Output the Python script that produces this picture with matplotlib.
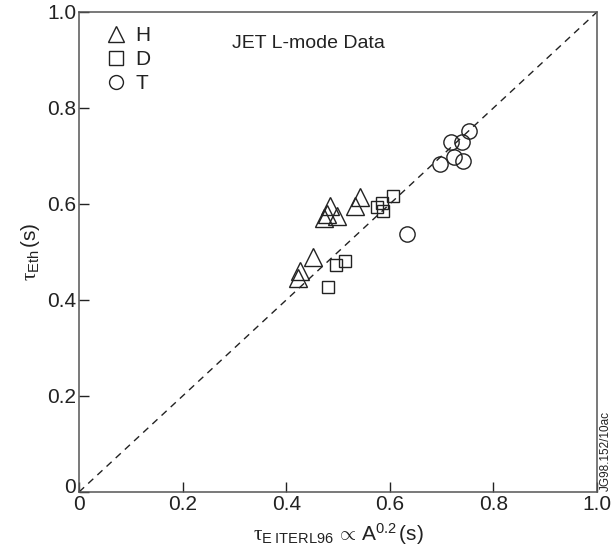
import matplotlib
matplotlib.use("Agg")
import matplotlib.pyplot as plt
import matplotlib.transforms as mtransforms
from matplotlib.lines import Line2D

plt.rcParams['font.family'] = ['Liberation Sans', 'DejaVu Sans']
plt.rcParams['mathtext.fontset'] = 'custom'
plt.rcParams['mathtext.rm'] = 'Liberation Sans'
plt.rcParams['mathtext.it'] = 'Liberation Serif'
plt.rcParams['mathtext.sf'] = 'Liberation Sans'

# Confinement time: ITERL96 scaling (x) vs. measured thermal (y), seconds
h_x = [0.423, 0.427, 0.452, 0.472, 0.478, 0.485, 0.499, 0.533, 0.542]
h_y = [0.445, 0.461, 0.490, 0.570, 0.580, 0.595, 0.575, 0.596, 0.614]

d_x = [0.481, 0.497, 0.514, 0.575, 0.585, 0.586, 0.607]
d_y = [0.428, 0.473, 0.482, 0.594, 0.603, 0.586, 0.617]

t_x = [0.633, 0.697, 0.719, 0.723, 0.739, 0.742, 0.752]
t_y = [0.538, 0.683, 0.730, 0.697, 0.729, 0.690, 0.752]

x_ticks = [0, 0.2, 0.4, 0.6, 0.8, 1.0]
x_ticklabels = ['0', '0.2', '0.4', '0.6', '0.8', '1.0']
y_ticks = [0, 0.2, 0.4, 0.6, 0.8, 1.0]
y_ticklabels = ['0', '0.2', '0.4', '0.6', '0.8', '1.0']

ink = '#222222'

fig = plt.figure(figsize=(6.14, 5.57), dpi=100)
ax = fig.add_axes([0.1287, 0.1167, 0.9723 - 0.1287, 0.9785 - 0.1167])

ax.plot([0, 1], [0, 1], ls=(0, (5, 4)), color=ink, lw=1.0, zorder=1)

mk = dict(ls='none', mfc='none', mec=ink, mew=1.0, zorder=3)
ax.plot(h_x, h_y, marker='^', ms=13, **mk)
ax.plot(d_x, d_y, marker='s', ms=8.8, **mk)
ax.plot(t_x, t_y, marker='o', ms=11, **mk)

ax.set_xlim(0, 1)
ax.set_ylim(0, 1)
ax.set_xticks(x_ticks)
ax.set_xticklabels(x_ticklabels)
ax.set_yticks(y_ticks)
ax.set_yticklabels(y_ticklabels)
ax.tick_params(direction='in', length=7, width=1, colors=ink,
               labelsize=15, pad=2)
for s in ax.spines.values():
    s.set_color('#555555')
    s.set_linewidth(1.1)

# lift the y-axis "0" a little so it clears the x-axis "0"
fig.canvas.draw()
ylab0 = ax.get_yticklabels()[0]
ylab0.set_transform(ylab0.get_transform() +
                    mtransforms.ScaledTranslation(0, 5 / 72, fig.dpi_scale_trans))

ax.set_xlabel(r'$\tau_{\mathrm{E\ ITERL96}}\,\propto\,\mathrm{A}^{0.2}\,\mathrm{(s)}$',
              fontsize=15, color=ink, labelpad=6)
ax.set_ylabel(r'$\tau_{\mathrm{Eth}}\,\mathrm{(s)}$', fontsize=15, color=ink,
              labelpad=4)

handles = [
    Line2D([], [], marker='^', ms=12, **mk),
    Line2D([], [], marker='s', ms=9.5, **mk),
    Line2D([], [], marker='o', ms=10, **mk),
]
leg = ax.legend(handles, ['H', 'D', 'T'], loc='upper left',
                bbox_to_anchor=(0.035, 0.988), frameon=False, fontsize=15,
                handlelength=1.0, handletextpad=0.45, labelspacing=0.25,
                borderaxespad=0)
for t in leg.get_texts():
    t.set_color(ink)

ax.text(0.295, 0.935, 'JET L-mode Data', transform=ax.transAxes,
        fontsize=14, color=ink, ha='left', va='center')

fig.text(0.986, 0.19, 'JG98.152/10ac', rotation=90, fontsize=8.5,
         color=ink, ha='center', va='center')

fig.savefig('out.png', dpi=100)
